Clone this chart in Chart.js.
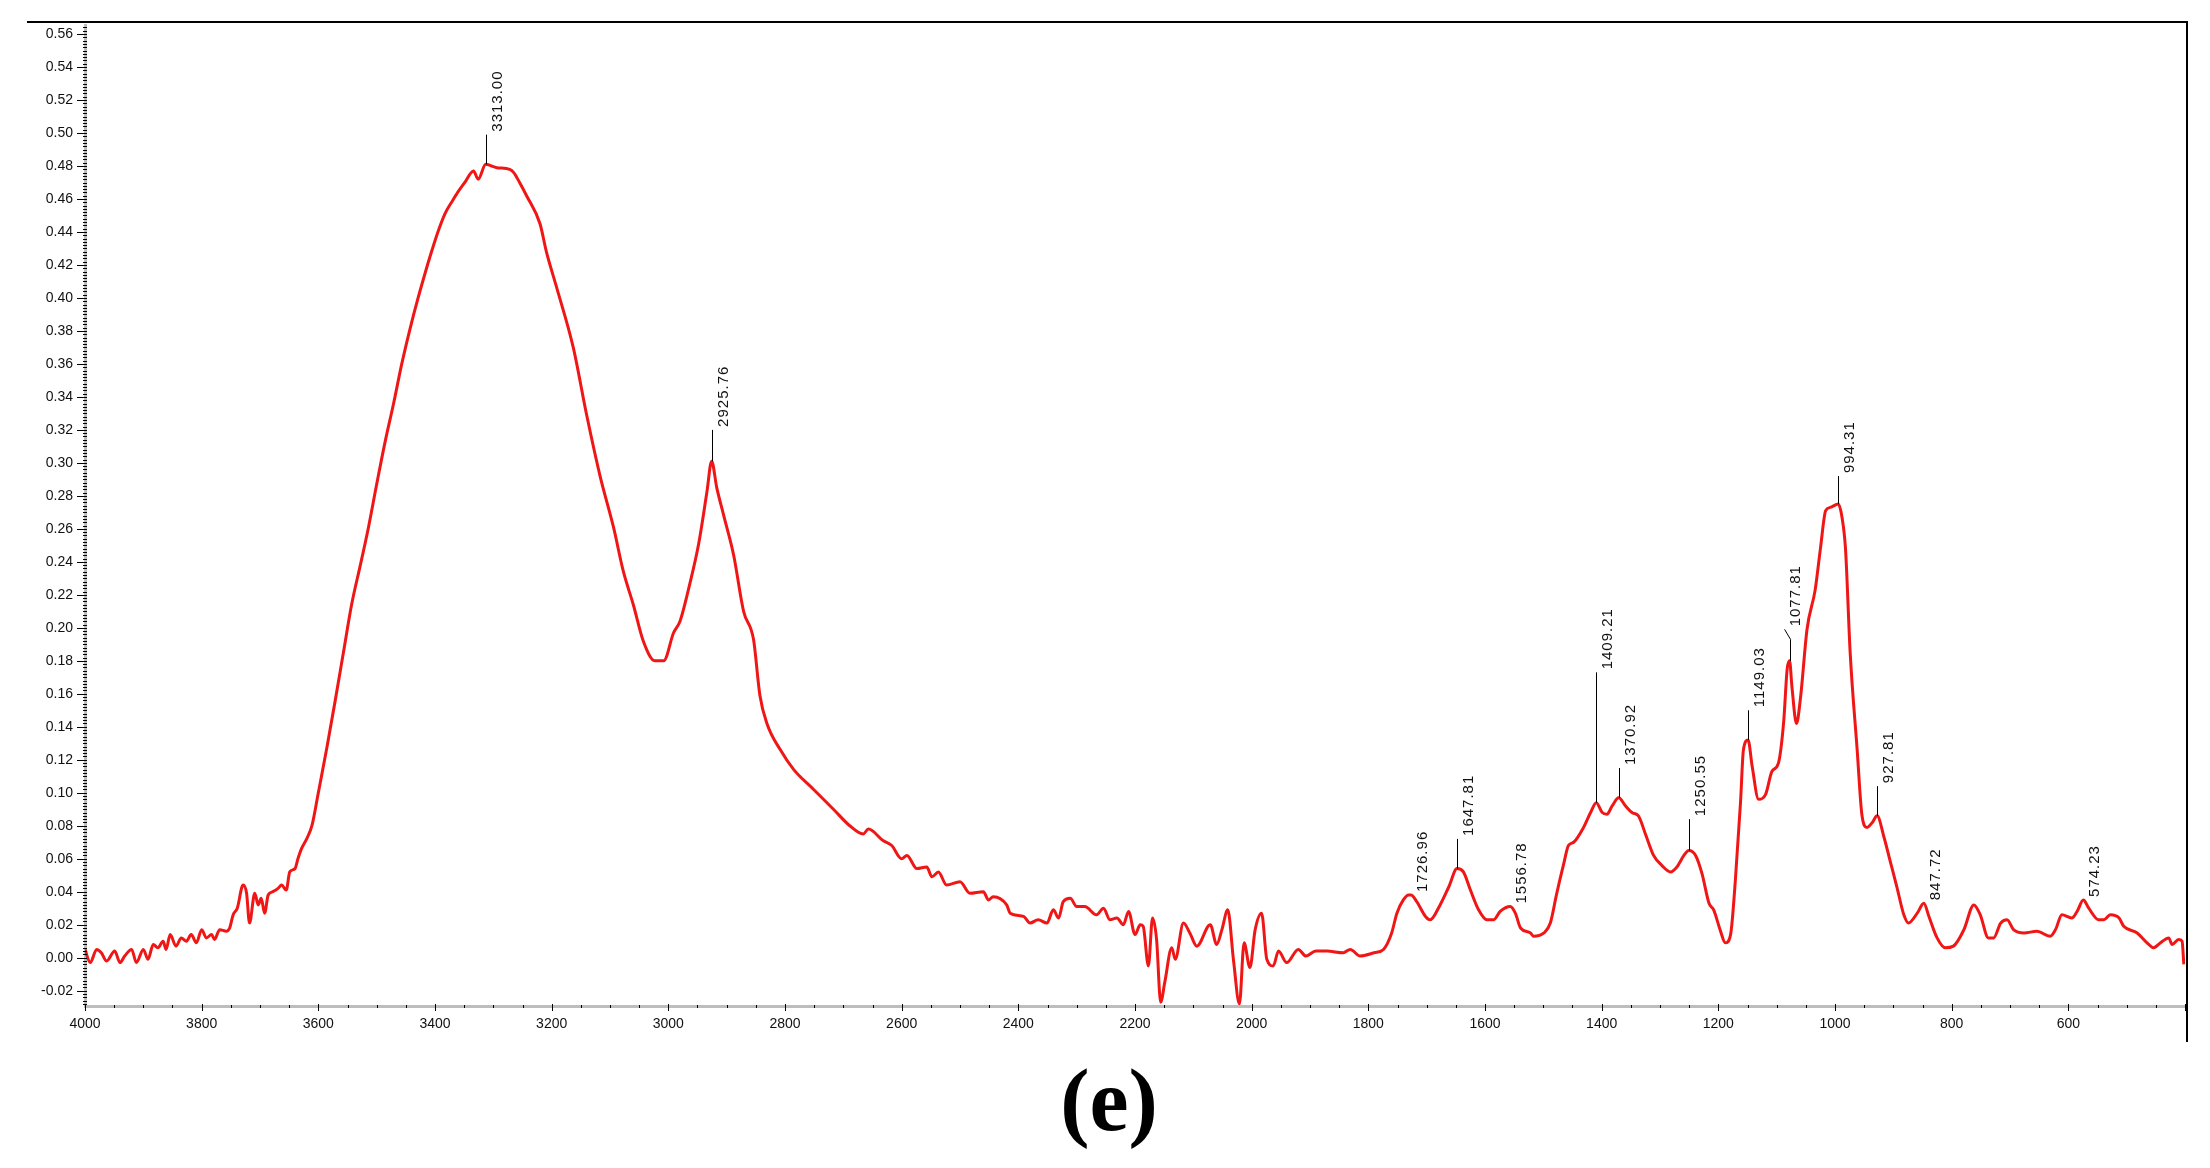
<!DOCTYPE html>
<html>
<head>
<meta charset="utf-8">
<title>FTIR spectrum (e)</title>
<script src="https://cdn.jsdelivr.net/npm/chart.js@4.4.1/dist/chart.umd.min.js"></script>
<style>
  html, body { margin: 0; padding: 0; background: #fff; }
  #wrap { position: relative; width: 2210px; height: 1168px; }
  #chart { position: absolute; left: 0; top: 0; }
  #frame { position: absolute; left: 27px; top: 21px; width: 2159px; height: 1019px;
           border-top: 2px solid #000; border-right: 2px solid #000; pointer-events: none; }
  #panel { position: absolute; left: 909px; top: 1057px; width: 400px; text-align: center;
           font-family: 'Liberation Serif', 'Times New Roman', serif; font-weight: bold;
           font-size: 88px; line-height: 88px; color: #000; }
</style>
</head>
<body>
<div id="wrap">
  <canvas id="chart" width="2210" height="1168"></canvas>
  <div id="frame"></div>
  <div id="panel">(e)</div>
</div>
<script>
// spectrum (cm-1, absorbance)
const waveNumbers = [
  4000, 3991, 3980, 3972, 3963, 3949, 3940, 3932, 3920, 3912, 3900, 3892, 3883, 3875, 3866, 3861,
  3854, 3844, 3835, 3826, 3818, 3809, 3800, 3792, 3783, 3778, 3769, 3758, 3752, 3746, 3739, 3729,
  3723, 3718, 3709, 3703, 3698, 3692, 3686, 3678, 3669, 3663, 3655, 3649, 3640, 3635, 3629, 3620,
  3611, 3600, 3585, 3571, 3557, 3543, 3528, 3514, 3500, 3486, 3471, 3457, 3443, 3429, 3417, 3406,
  3395, 3383, 3370, 3363, 3349, 3334, 3326, 3313, 3294, 3272, 3265, 3255, 3243, 3220, 3209, 3192,
  3163, 3140, 3117, 3094, 3077, 3060, 3043, 3023, 3008, 2991, 2980, 2963, 2948, 2934, 2925.76, 2917,
  2905, 2888, 2871, 2854, 2843, 2831, 2808, 2785, 2751, 2717, 2689, 2666, 2657, 2632, 2617, 2600,
  2591, 2574, 2557, 2548, 2537, 2523, 2500, 2483, 2460, 2451, 2443, 2420, 2414, 2391, 2380, 2366,
  2351, 2340, 2331, 2323, 2311, 2300, 2286, 2266, 2254, 2243, 2231, 2220, 2211, 2200, 2191, 2186,
  2177, 2170, 2163, 2156, 2149, 2137, 2131, 2117, 2106, 2094, 2071, 2060, 2051, 2041, 2031, 2021,
  2013, 2003, 1994, 1983, 1974, 1963, 1954, 1940, 1920, 1907, 1890, 1871, 1843, 1831, 1814, 1790,
  1774, 1760, 1751, 1740, 1731, 1726.96, 1717, 1702, 1694, 1677, 1662, 1647.81, 1637, 1625, 1611, 1597,
  1585, 1574, 1556.78, 1548, 1539, 1522, 1517, 1499, 1488, 1477, 1465, 1457, 1448, 1431, 1419, 1409.21,
  1399, 1391, 1382, 1370.92, 1359, 1348, 1337, 1325, 1311, 1297, 1282, 1271, 1259, 1250.55, 1239, 1228,
  1216, 1208, 1197, 1188, 1179, 1171, 1162, 1157, 1149.03, 1142, 1131, 1119, 1108, 1097, 1088, 1082,
  1077.81, 1074, 1066, 1059, 1048, 1034, 1025, 1016, 1008, 994.31, 988, 982, 974, 962, 954, 945,
  936, 927.81, 916, 905, 894, 882, 874, 859, 847.72, 839, 825, 811, 797, 779, 762, 751,
  737, 728, 716, 705, 694, 676, 654, 631, 622, 611, 594, 585, 574.23, 565, 548, 539,
  528, 513, 505, 482, 465, 454, 442, 428, 422, 411, 405, 402
];
const absorbance = [
  0.005, -0.003, 0.005, 0.003, -0.002, 0.004, -0.003, 0.001, 0.005, -0.003, 0.005, -0.001, 0.008, 0.006, 0.010, 0.005,
  0.014, 0.007, 0.012, 0.010, 0.014, 0.009, 0.017, 0.012, 0.014, 0.011, 0.017, 0.016, 0.018, 0.026, 0.030, 0.044,
  0.039, 0.021, 0.039, 0.032, 0.036, 0.027, 0.038, 0.040, 0.042, 0.044, 0.041, 0.052, 0.054, 0.060, 0.066, 0.072,
  0.080, 0.100, 0.128, 0.156, 0.185, 0.214, 0.238, 0.261, 0.287, 0.312, 0.336, 0.360, 0.381, 0.400, 0.415, 0.428,
  0.440, 0.451, 0.459, 0.463, 0.470, 0.477, 0.472, 0.481, 0.479, 0.478, 0.476, 0.470, 0.462, 0.445, 0.428, 0.407,
  0.370, 0.329, 0.292, 0.261, 0.234, 0.214, 0.192, 0.180, 0.180, 0.197, 0.204, 0.227, 0.251, 0.282, 0.301, 0.285,
  0.268, 0.244, 0.210, 0.193, 0.159, 0.142, 0.126, 0.114, 0.102, 0.090, 0.080, 0.075, 0.078, 0.071, 0.068, 0.060,
  0.062, 0.054, 0.055, 0.049, 0.052, 0.044, 0.046, 0.039, 0.040, 0.035, 0.037, 0.032, 0.027, 0.025, 0.021, 0.023,
  0.021, 0.029, 0.024, 0.034, 0.036, 0.031, 0.031, 0.026, 0.030, 0.023, 0.024, 0.020, 0.028, 0.014, 0.020, 0.019,
  -0.005, 0.024, 0.011, -0.027, -0.015, 0.006, -0.001, 0.021, 0.015, 0.007, 0.020, 0.008, 0.017, 0.029, -0.002, -0.028,
  0.009, -0.006, 0.017, 0.027, -0.001, -0.005, 0.004, -0.003, 0.005, 0.001, 0.004, 0.004, 0.003, 0.005, 0.001, 0.003,
  0.005, 0.015, 0.027, 0.035, 0.038, 0.038, 0.034, 0.025, 0.023, 0.032, 0.043, 0.054, 0.052, 0.041, 0.029, 0.023,
  0.023, 0.028, 0.031, 0.027, 0.018, 0.015, 0.013, 0.015, 0.021, 0.039, 0.057, 0.068, 0.070, 0.079, 0.088, 0.094,
  0.088, 0.087, 0.092, 0.097, 0.092, 0.088, 0.086, 0.075, 0.062, 0.056, 0.052, 0.055, 0.062, 0.065, 0.062, 0.051,
  0.033, 0.029, 0.017, 0.009, 0.014, 0.046, 0.094, 0.126, 0.132, 0.116, 0.096, 0.099, 0.113, 0.118, 0.143, 0.175,
  0.180, 0.165, 0.142, 0.158, 0.199, 0.223, 0.248, 0.271, 0.273, 0.275, 0.267, 0.248, 0.185, 0.126, 0.087, 0.079,
  0.082, 0.086, 0.073, 0.058, 0.043, 0.026, 0.021, 0.027, 0.033, 0.025, 0.012, 0.006, 0.007, 0.017, 0.032, 0.026,
  0.012, 0.012, 0.021, 0.023, 0.017, 0.015, 0.016, 0.013, 0.017, 0.026, 0.024, 0.028, 0.035, 0.030, 0.023, 0.023,
  0.026, 0.024, 0.019, 0.015, 0.009, 0.006, 0.009, 0.012, 0.008, 0.011, 0.010, -0.004
];

// axis ticks
const xTickValues = [4000, 3800, 3600, 3400, 3200, 3000, 2800, 2600, 2400, 2200, 2000, 1800, 1600, 1400, 1200, 1000, 800, 600];
const yTickValues = [-0.02, 0.00, 0.02, 0.04, 0.06, 0.08, 0.10, 0.12, 0.14, 0.16, 0.18, 0.20, 0.22, 0.24, 0.26,
                     0.28, 0.30, 0.32, 0.34, 0.36, 0.38, 0.40, 0.42, 0.44, 0.46, 0.48, 0.50, 0.52, 0.54, 0.56];

// peak picks: label, position, peak height, top of leader line, slant of leader end (cm-1)
const peakLabels      = ['3313.00', '2925.76', '1726.96', '1647.81', '1556.78', '1409.21', '1370.92',
                         '1250.55', '1149.03', '1077.81', '994.31', '927.81', '847.72', '574.23'];
const peakWavenumbers = [3313.00, 2925.76, 1726.96, 1647.81, 1556.78, 1409.21, 1370.92,
                         1250.55, 1149.03, 1077.81, 994.31, 927.81, 847.72, 574.23];
const peakHeights     = [0.481, 0.301, 0.038, 0.054, 0.031, 0.094, 0.097,
                         0.065, 0.132, 0.180, 0.275, 0.086, 0.033, 0.035];
const leaderTops      = [0.499, 0.320, 0.038, 0.072, 0.031, 0.173, 0.115,
                         0.084, 0.150, 0.193, 0.292, 0.104, 0.033, 0.035];
const leaderSlant     = [0, 0, 0, 0, 0, 0, 0, 0, 0, 8.6, 0, 0, 0, 0];

const FONT = "'Liberation Sans', Arial, sans-serif";

const spectrumDecor = {
    id: 'spectrumDecor',
    afterDatasetsDraw(chart) {
        const { ctx, chartArea: a } = chart;
        const x = chart.scales.x, y = chart.scales.y;
        ctx.save();
        ctx.strokeStyle = '#000';
        ctx.lineWidth = 1;

        // y minor/major ticks every 0.002
        ctx.beginPath();
        for (let i = -14; i <= 282; i++) {
            const py = Math.round(y.getPixelForValue(i * 0.002)) + 0.5;
            const len = i % 10 === 0 ? 8 : 2;
            ctx.moveTo(a.left - len, py);
            ctx.lineTo(a.left + 2, py);
        }
        // x ticks every 50
        for (let i = 8; i <= 80; i++) {
            const v = i * 50;
            const px = Math.round(x.getPixelForValue(v)) + 0.5;
            const major = v % 200 === 0 || v === 400;
            ctx.moveTo(px, a.bottom - (major ? 2 : 1));
            ctx.lineTo(px, a.bottom + (major ? 5 : 2));
        }
        ctx.stroke();

        // peak labels
        ctx.fillStyle = '#111';
        ctx.font = '15px ' + FONT;
        ctx.letterSpacing = '1px';
        peakLabels.forEach((txt, i) => {
            const px = Math.round(x.getPixelForValue(peakWavenumbers[i])) + 0.5;
            const py = y.getPixelForValue(peakHeights[i]);
            let ty = y.getPixelForValue(leaderTops[i]);
            let ex = px;
            ctx.beginPath();
            if (ty < py - 1) {
                ctx.moveTo(px, py);
                ctx.lineTo(px, ty);
            }
            if (leaderSlant[i]) {
                ex = x.getPixelForValue(peakWavenumbers[i] + leaderSlant[i]);
                ctx.moveTo(px, ty);
                ctx.lineTo(ex, ty - 10);
                ty -= 10;
            }
            ctx.stroke();
            ctx.save();
            ctx.translate(ex + 11, ty - 3);
            ctx.rotate(-Math.PI / 2);
            ctx.textAlign = 'left';
            ctx.textBaseline = 'middle';
            ctx.fillText(txt, 0, 0);
            ctx.restore();
        });
        ctx.restore();
    }
};

const points = waveNumbers.map((w, i) => ({ x: w, y: absorbance[i] }));

new Chart(document.getElementById('chart'), {
    type: 'line',
    data: {
        datasets: [{
            data: points,
            borderColor: 'rgb(240,22,22)',
            borderWidth: 3,
            pointRadius: 0,
            cubicInterpolationMode: 'monotone',
            borderJoinStyle: 'round'
        }]
    },
    options: {
        responsive: false,
        animation: false,
        layout: { padding: { top: 25, right: 25, bottom: 122, left: 0 } },
        plugins: { legend: { display: false }, tooltip: { enabled: false } },
        scales: {
            x: {
                type: 'linear',
                reverse: true,
                min: 400,
                max: 4000,
                afterBuildTicks: s => { s.ticks = xTickValues.map(v => ({ value: v })); },
                afterFit: s => { s.height = 40; },
                ticks: {
                    autoSkip: false, maxRotation: 0, padding: 5, color: '#111',
                    font: { family: FONT, size: 14 },
                    callback: v => String(v)
                },
                grid: { drawOnChartArea: false, drawTicks: true, tickLength: 5, color: 'rgba(0,0,0,0)' },
                border: { display: true, color: '#bdbdbd', width: 3 }
            },
            y: {
                type: 'linear',
                min: -0.0293,
                max: 0.5655,
                afterBuildTicks: s => { s.ticks = yTickValues.map(v => ({ value: v })); },
                afterFit: s => { s.width = 85; },
                ticks: {
                    autoSkip: false, padding: 5, color: '#111',
                    font: { family: FONT, size: 14 },
                    callback: v => v.toFixed(2)
                },
                grid: { drawOnChartArea: false, drawTicks: true, tickLength: 7, color: 'rgba(0,0,0,0)' },
                border: { display: true, color: '#bdbdbd', width: 3 }
            }
        }
    },
    plugins: [spectrumDecor]
});
</script>
</body>
</html>
